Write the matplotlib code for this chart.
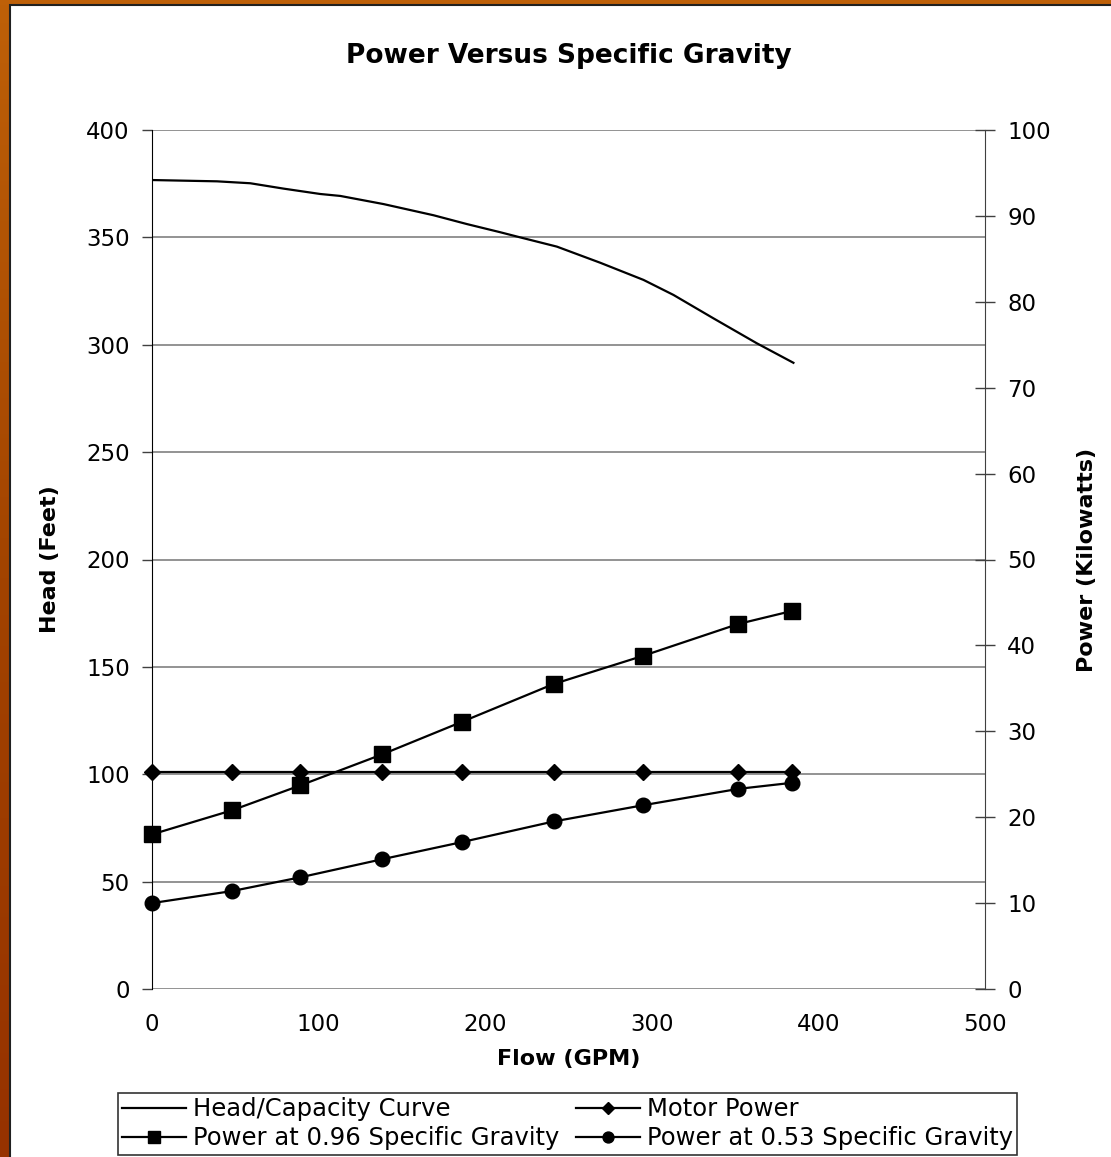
import numpy as np
import matplotlib
matplotlib.use('Agg')
import matplotlib.pyplot as plt
from matplotlib.patches import Rectangle

plt.rcParams['font.family'] = ['DejaVu Sans']

# 数据
flow = [0, 48, 89, 138, 186, 241, 295, 352, 384]
power_096 = [18.0, 20.8, 23.7, 27.3, 31.1, 35.5, 38.8, 42.5, 44.0]
power_053 = [10.0, 11.4, 13.0, 15.1, 17.1, 19.5, 21.4, 23.3, 24.0]
motor_power = [25.3] * 9

head_flow = [0, 39, 59, 79, 101, 113, 139, 169, 189, 209, 221, 243, 269, 295, 313, 337, 363, 385]
head = [376.7, 376.1, 375.2, 372.7, 370.2, 369.3, 365.5, 360.3, 356.2, 352.4,
        350.0, 345.7, 338.2, 330.2, 323.2, 312.3, 300.7, 291.6]

head_ticks = [0, 50, 100, 150, 200, 250, 300, 350, 400]
power_ticks = [0, 10, 20, 30, 40, 50, 60, 70, 80, 90, 100]
flow_ticks = [0, 100, 200, 300, 400, 500]

fig = plt.figure(figsize=(11.11, 11.57), dpi=100)

# orange frame background
bg = fig.add_axes([0, 0, 1, 1], zorder=-10)
grad = np.linspace(0, 1, 256).reshape(-1, 1)
cmap = matplotlib.colors.LinearSegmentedColormap.from_list('frame', ['#BE6008', '#A24300', '#963200'])
bg.imshow(grad, aspect='auto', cmap=cmap, extent=[0, 1, 0, 1])
bg.add_patch(Rectangle((10 / 1111, -0.01), 1.0, 1 - 5 / 1157 + 0.01, facecolor='white',
                       edgecolor='#202020', linewidth=1.5))
bg.set_xlim(0, 1)
bg.set_ylim(0, 1)
bg.axis('off')

ax = fig.add_axes([152 / 1111, 1 - 989 / 1157, (985 - 152) / 1111, (989 - 130) / 1157])
ax.set_facecolor('none')
ax2 = ax.twinx()

# 线
l1, = ax.plot(head_flow, head, color='black', lw=1.6)
l2, = ax2.plot(flow, motor_power, color='black', lw=1.6, marker='D', ms=8.5)
l3, = ax2.plot(flow, power_096, color='black', lw=1.6, marker='s', ms=11)
l4, = ax2.plot(flow, power_053, color='black', lw=1.6, marker='o', ms=10.5)
for l in (l2, l3, l4):
    l.set_clip_on(False)

ax.set_xlim(0, 500)
ax.set_ylim(0, 400)
ax2.set_ylim(0, 100)
ax.set_xticks(flow_ticks)
ax.set_yticks(head_ticks)
ax2.set_yticks(power_ticks)

ax.grid(axis='y', color='#808080', lw=1.2)
ax.set_axisbelow(True)

for a in (ax, ax2):
    a.spines['top'].set_visible(False)
    a.spines['bottom'].set_visible(False)
ax.spines['right'].set_visible(False)
ax2.spines['left'].set_visible(False)
ax.spines['left'].set_color('black')
ax2.spines['right'].set_color('#404040')

ax.tick_params(axis='y', direction='out', length=7, width=1, color='#404040', pad=9, labelsize=16.5)
ax.tick_params(axis='x', length=0, pad=17, labelsize=16.5)
ax2.tick_params(axis='y', direction='inout', length=14, width=1, color='#404040', pad=9, labelsize=16.5)

ax.set_title('Power Versus Specific Gravity', fontsize=19, fontweight='bold', pad=48)
ax.set_xlabel('Flow (GPM)', fontsize=16, fontweight='bold', labelpad=10)
ax.set_ylabel('Head (Feet)', fontsize=16, fontweight='bold', labelpad=19)
ax2.set_ylabel('Power (Kilowatts)', fontsize=16, fontweight='bold', labelpad=19)

leg = fig.legend([l1, l3, l2, l4],
                 ['Head/Capacity Curve', 'Power at 0.96 Specific Gravity',
                  'Motor Power', 'Power at 0.53 Specific Gravity'],
                 loc='upper center', bbox_to_anchor=(0.511, 1 - 1093 / 1157), ncol=2,
                 fontsize=17.5, frameon=True, fancybox=False, edgecolor='black',
                 handlelength=2.6, handletextpad=0.3, columnspacing=0.7,
                 borderpad=0.18, labelspacing=0.2, borderaxespad=0, markerscale=0.75)
leg.get_frame().set_linewidth(1.2)

fig.savefig('out.png', dpi=100)
